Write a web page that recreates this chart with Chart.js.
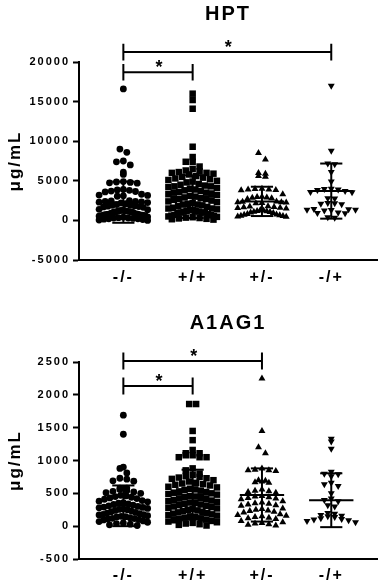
<!DOCTYPE html>
<html>
<head>
<meta charset="utf-8">
<script src="https://cdn.jsdelivr.net/npm/chart.js@4.4.1/dist/chart.umd.min.js"></script>
<style>
    html, body { margin: 0; padding: 0; background: #fff; }
    .box { position: absolute; left: 0; width: 383px; }
    canvas { display: block; }
</style>
</head>
<body>
<div class="box" style="top:0;height:290px"><canvas id="hptChart" width="383" height="290"></canvas></div>
<div class="box" style="top:290px;height:297px"><canvas id="a1ag1Chart" width="383" height="297"></canvas></div>
<script>
// Genotype groups (x axis)
const groups = ['-/-', '+/+', '+/-', '-/+'];

// HPT, ug/mL
const hptNegNeg = [16600, 9000, 8600, 7500, 7400, 7000, 6100, 5800,
    4900, 4850, 4800, 4750, 4700,
    3900, 3850, 3800, 3700, 3650, 3600,
    3300, 3200, 3150, 3100, 3050,
    2500, 2450, 2400, 2400, 2350, 2300, 2250, 2200,
    2100, 2000, 1950, 1900, 1850, 1800, 1750, 1700, 1650,
    1400, 1350, 1300, 1250, 1200, 1200, 1150, 1100, 1100, 1050, 1000,
    900, 850, 800, 800, 750, 700, 700, 650, 600, 600, 550,
    450, 400, 350, 300, 300, 250, 200, 200, 150, 100, 50, 0];
const hptPosPos = [16000, 15200, 14100, 9300, 8000, 7400, 7400, 6800, 6500,
    6300, 6200, 6100, 6000, 6000, 5900, 5800,
    5600, 5500, 5400, 5300, 5200, 5100, 5000, 4900, 4800,
    4600, 4500, 4400, 4300, 4300, 4200, 4100, 4000, 3900,
    3800, 3700, 3600, 3500, 3500, 3400, 3300, 3200, 3100,
    3000, 2900, 2800, 2700, 2700, 2600, 2500, 2400, 2300,
    2200, 2100, 2000, 2000, 1900, 1800, 1700, 1600, 1500, 1500,
    1400, 1300, 1300, 1200, 1200, 1100, 1100, 1000, 1000, 1000, 900, 800,
    700, 650, 600, 550, 500, 450, 400, 350, 300, 250, 200, 150, 100];
const hptPosNeg = [8500, 7700, 6000, 5900, 5600, 5500,
    4000, 3950, 3900, 3900, 3850, 3800, 3300,
    3000, 2950, 2900, 2850, 2800, 2700,
    2400, 2350, 2300, 2300, 2250, 2200, 2150,
    1800, 1750, 1700, 1650, 1600, 1550, 1500,
    1300, 1250, 1200, 1150, 1100, 1050, 1000, 950,
    800, 750, 700, 650, 600, 550, 500, 450];
const hptNegPos = [17000, 8800, 7200, 7100, 6100, 4900,
    4000, 3950, 3900, 3850, 3700, 3600, 3550,
    2800, 2750, 2200, 2150, 2100, 2050,
    1450, 1400, 1350, 1350, 1300, 1250, 1000, 950, 900, 400, 350];
const hptMeans = [2300, 3000, 2400, 3700];
const hptSds = [2600, 2700, 1850, 3480];

// A1AG1, ug/mL
const a1NegNeg = [1690, 1400, 900, 880, 810, 730, 715, 690, 685, 580, 580,
    560, 540, 530, 520, 510, 500,
    470, 460, 450, 440, 430, 420, 410,
    390, 380, 370, 360, 350, 340, 330, 320, 310,
    300, 290, 285, 280, 270, 260, 255, 250, 240,
    230, 220, 210, 200, 190, 180, 175, 170, 160,
    150, 145, 140, 130, 120, 115, 110, 100, 95,
    80, 70, 60, 50, 40, 30, 20, 10];
const a1PosPos = [1860, 1860, 1450, 1310, 1160, 1110, 1080, 1050, 1050, 1050, 1080, 1110, 880, 850,
    800, 780, 760, 750, 740, 730, 720, 700,
    680, 660, 650, 640, 630, 620, 600, 590,
    570, 560, 550, 540, 530, 520, 510, 500, 490,
    480, 460, 450, 440, 430, 420, 410, 400, 390,
    380, 370, 360, 350, 340, 330, 320, 310, 300, 290,
    280, 270, 260, 250, 240, 230, 220, 210, 200, 190,
    180, 170, 160, 150, 140, 130, 120, 110, 100, 90,
    80, 70, 60, 50, 40, 30, 20, 10];
const a1PosNeg = [2250, 1450, 1200, 1110, 880, 860, 850, 850, 840,
    700, 690, 680, 670, 660,
    560, 540, 530, 520, 510,
    460, 450, 440, 430, 420, 410,
    380, 360, 350, 340, 330, 320, 310,
    270, 260, 250, 240, 230, 220, 210,
    180, 170, 160, 150, 140, 130, 120, 110,
    80, 60, 50, 40, 30, 20, 10];
const a1NegPos = [1330, 1290, 1180, 830, 800, 790, 760, 660, 640, 610, 500, 420, 400, 380,
    320, 300, 200, 190, 170, 160, 150, 140, 120, 110, 100, 90, 80, 60];
const a1Means = [310, 480, 475, 395];
const a1Sds = [310, 380, 405, 410];

// significance brackets: [from group, to group, level]
const hptBrackets = [[0, 1, 18700], [0, 3, 21250]];
const a1Brackets = [[0, 1, 2135], [0, 2, 2515]];

const FONT = 'Liberation Sans, Arial, sans-serif';
Chart.defaults.font.family = FONT;
Chart.defaults.color = '#000';

const markers = [
    { style: 'circle', radius: 3.4, rotation: 0 },
    { style: 'rect', radius: 4.6, rotation: 0 },
    { style: 'triangle', radius: 4, rotation: 0 },
    { style: 'triangle', radius: 4, rotation: 180 }
];

// spread values of one group into rows, highest value of each row in the middle
function swarm(values, index, bin) {
    const rows = {};
    values.forEach(v => {
        const k = Math.round(v / bin);
        (rows[k] = rows[k] || []).push(v);
    });
    const pts = [];
    Object.values(rows).forEach(row => {
        row.sort((a, b) => b - a);
        const n = row.length;
        const step = Math.min(0.1, 0.7 / Math.max(n - 1, 1));
        const slots = row.map((_, j) => j - (n - 1) / 2)
            .sort((a, b) => Math.abs(a) - Math.abs(b) || a - b);
        row.forEach((v, k) => pts.push({ x: index + slots[k] * step, y: v }));
    });
    return pts;
}

const spacing = {
    id: 'spacing',
    beforeDraw(chart) { chart.ctx.letterSpacing = '2px'; }
};

function meanSd(means, sds) {
    return {
        id: 'meanSd',
        afterDatasetsDraw(chart) {
            const { ctx, scales: { x, y } } = chart;
            const line = (x1, y1, x2, y2) => {
                ctx.beginPath();
                ctx.moveTo(x.getPixelForValue(x1), y.getPixelForValue(y1));
                ctx.lineTo(x.getPixelForValue(x2), y.getPixelForValue(y2));
                ctx.stroke();
            };
            ctx.save();
            ctx.strokeStyle = '#000';
            ctx.lineWidth = 2;
            means.forEach((m, i) => {
                const top = m + sds[i], bot = m - sds[i];
                line(i - 0.32, m, i + 0.32, m);
                line(i, top, i, bot);
                line(i - 0.16, top, i + 0.16, top);
                line(i - 0.16, bot, i + 0.16, bot);
            });
            ctx.restore();
        }
    };
}

function brackets(list, tick) {
    return {
        id: 'brackets',
        afterDraw(chart) {
            const { ctx, scales: { x, y } } = chart;
            ctx.save();
            ctx.strokeStyle = '#000';
            ctx.fillStyle = '#000';
            ctx.lineWidth = 2;
            ctx.letterSpacing = '0px';
            ctx.font = 'bold 18px ' + FONT;
            ctx.textAlign = 'center';
            ctx.textBaseline = 'alphabetic';
            list.forEach(([a, b, level]) => {
                const xa = x.getPixelForValue(a), xb = x.getPixelForValue(b);
                const yl = y.getPixelForValue(level);
                const yt = y.getPixelForValue(level + tick), yb = y.getPixelForValue(level - tick);
                ctx.beginPath();
                ctx.moveTo(xa, yl); ctx.lineTo(xb, yl);
                ctx.moveTo(xa, yt); ctx.lineTo(xa, yb);
                ctx.moveTo(xb, yt); ctx.lineTo(xb, yb);
                ctx.stroke();
                ctx.fillText('*', (xa + xb) / 2 + 1, yl + 1);
            });
            ctx.restore();
        }
    };
}

function makeChart(id, title, sets, bin, yMin, yMax, step, means, sds, bracketList, tick, titlePad, axisHeight, labelPad) {
    const ctx = document.getElementById(id).getContext('2d');
    return new Chart(ctx, {
        type: 'scatter',
        data: {
            datasets: sets.map((vals, i) => ({
                data: swarm(vals, i, bin),
                pointStyle: markers[i].style,
                pointRadius: markers[i].radius,
                pointRotation: markers[i].rotation,
                pointBackgroundColor: '#000',
                pointBorderColor: '#000',
                pointBorderWidth: 0,
                showLine: false
            }))
        },
        options: {
            responsive: false,
            animation: false,
            devicePixelRatio: 1,
            layout: { padding: { top: 0, right: 6, bottom: 0, left: 0 } },
            plugins: {
                legend: { display: false },
                tooltip: { enabled: false },
                title: {
                    display: true,
                    text: title,
                    fullSize: false,
                    color: '#000',
                    font: { size: 20, weight: 'bold' },
                    padding: titlePad
                }
            },
            scales: {
                x: {
                    type: 'linear',
                    min: -0.64,
                    max: 3.66,
                    afterBuildTicks(s) { s.ticks = groups.map((g, i) => ({ value: i })); },
                    afterFit(s) { s.height = axisHeight; },
                    ticks: {
                        callback: v => groups[v] ?? '',
                        color: '#000',
                        font: { size: 16, weight: 'bold' },
                        padding: labelPad,
                        autoSkip: false,
                        maxRotation: 0
                    },
                    grid: { display: true, drawOnChartArea: false, tickLength: 6, tickColor: 'rgba(0,0,0,0)' },
                    border: { display: true, color: '#000', width: 2 }
                },
                y: {
                    min: yMin,
                    max: yMax,
                    afterFit(s) { s.width = 79; },
                    ticks: {
                        stepSize: step,
                        callback: v => String(v),
                        color: '#000',
                        font: { size: 11, weight: 'bold' },
                        padding: 3
                    },
                    grid: { display: true, drawOnChartArea: false, tickLength: 6, tickColor: '#000', tickWidth: 2 },
                    border: { display: true, color: '#000', width: 2 },
                    title: {
                        display: true,
                        text: 'μg/mL',
                        color: '#000',
                        font: { size: 17, weight: 'bold' },
                        padding: { top: 5, bottom: 0 }
                    }
                }
            }
        },
        plugins: [spacing, meanSd(means, sds), brackets(bracketList, tick)]
    });
}

makeChart('hptChart', 'HPT', [hptNegNeg, hptPosPos, hptPosNeg, hptNegPos], 900,
    -5000, 20000, 5000, hptMeans, hptSds, hptBrackets, 1050, { top: 2, bottom: 36 }, 30, 2);
makeChart('a1ag1Chart', 'A1AG1', [a1NegNeg, a1PosPos, a1PosNeg, a1NegPos], 105,
    -500, 2500, 500, a1Means, a1Sds, a1Brackets, 130, { top: 21, bottom: 27 }, 28, 1);
</script>
</body>
</html>
